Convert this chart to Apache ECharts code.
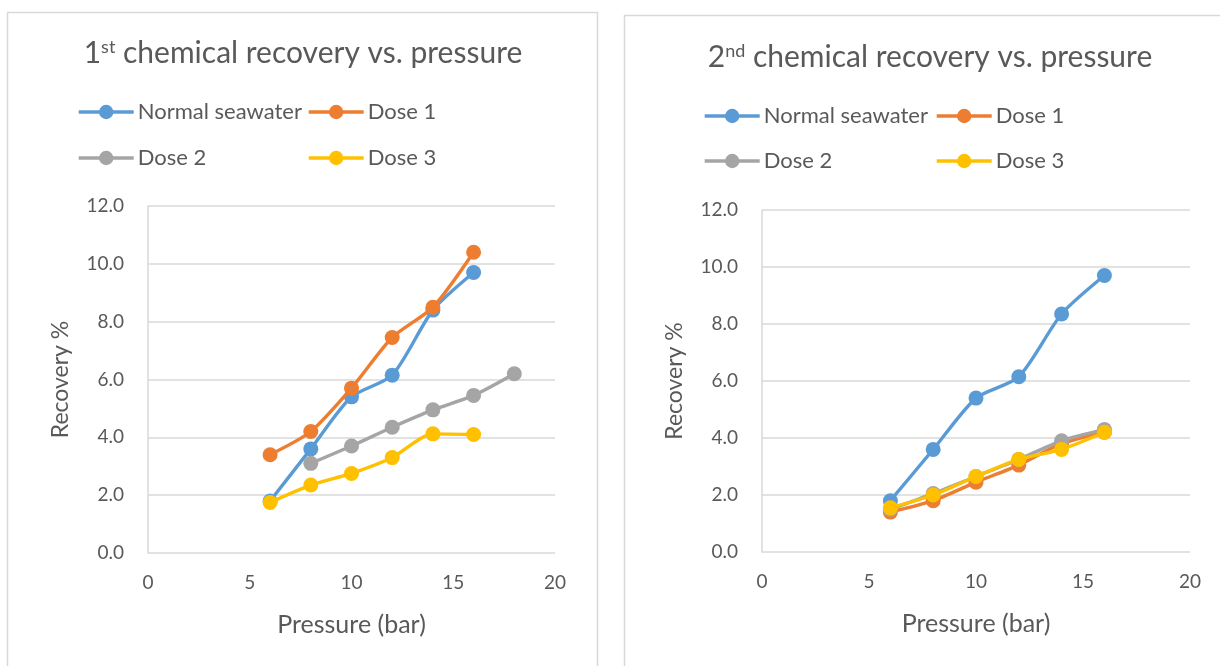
<!DOCTYPE html>
<html>
<head>
<meta charset="utf-8">
<script src="https://cdn.jsdelivr.net/npm/echarts@6/dist/echarts.min.js"></script>
<style>
  html, body { margin: 0; padding: 0; background: #ffffff; }
  #chart { width: 1220px; height: 666px; }
</style>
</head>
<body>
<div id="chart"></div>
<script>
// Pressure (bar) on the x axis, recovery % on the y axis
const seriesNames = ['Normal seawater', 'Dose 1', 'Dose 2', 'Dose 3'];
const seriesColors = ['#5B9BD5', '#ED7D31', '#A5A5A5', '#FFC000'];

// 1st chemical
const pressure1Normal = [6, 8, 10, 12, 14, 16];
const recovery1Normal = [1.8, 3.6, 5.4, 6.15, 8.4, 9.7];
const pressure1Dose1 = [6, 8, 10, 12, 14, 16];
const recovery1Dose1 = [3.4, 4.2, 5.7, 7.45, 8.5, 10.4];
const pressure1Dose2 = [8, 10, 12, 14, 16, 18];
const recovery1Dose2 = [3.1, 3.7, 4.35, 4.95, 5.45, 6.2];
const pressure1Dose3 = [6, 8, 10, 12, 14, 16];
const recovery1Dose3 = [1.75, 2.35, 2.75, 3.3, 4.12, 4.1];

// 2nd chemical
const pressure2 = [6, 8, 10, 12, 14, 16];
const recovery2Normal = [1.8, 3.6, 5.4, 6.15, 8.35, 9.7];
const recovery2Dose1 = [1.4, 1.8, 2.45, 3.05, 3.8, 4.2];
const recovery2Dose2 = [1.5, 2.05, 2.65, 3.25, 3.9, 4.3];
const recovery2Dose3 = [1.55, 2.0, 2.65, 3.25, 3.6, 4.2];

const xTicks = [0, 5, 10, 15, 20];
const yTicks = [0, 2, 4, 6, 8, 10, 12];

const FONT = 'Lato, "Open Sans", sans-serif';
const TEXT = '#595959';

function pairs(xs, ys) {
  return xs.map((x, i) => [x, ys[i]]);
}

function lineSeries(name, idx, axisIndex, data) {
  return {
    name: name,
    type: 'line',
    xAxisIndex: axisIndex,
    yAxisIndex: axisIndex,
    data: data,
    smooth: 0.25,
    symbol: 'circle',
    symbolSize: 15,
    showSymbol: true,
    color: seriesColors[idx],
    lineStyle: { width: 3.4, color: seriesColors[idx] },
    itemStyle: { color: seriesColors[idx] },
    z: 2 + idx
  };
}

function xAxisCfg(gridIndex) {
  return {
    type: 'value',
    gridIndex: gridIndex,
    min: xTicks[0],
    max: xTicks[xTicks.length - 1],
    interval: xTicks[1] - xTicks[0],
    name: 'Pressure (bar)',
    nameLocation: 'middle',
    nameGap: 59,
    nameTextStyle: { fontFamily: FONT, fontSize: 25, color: TEXT },
    axisLine: { show: false },
    axisTick: { show: false },
    splitLine: { show: false },
    axisLabel: { fontFamily: FONT, fontSize: 19, color: TEXT, margin: 20 }
  };
}

function yAxisCfg(gridIndex) {
  return {
    type: 'value',
    gridIndex: gridIndex,
    min: yTicks[0],
    max: yTicks[yTicks.length - 1],
    interval: yTicks[1] - yTicks[0],
    name: 'Recovery %',
    nameLocation: 'middle',
    nameGap: 76,
    nameTextStyle: { fontFamily: FONT, fontSize: 23, color: TEXT },
    axisLine: { show: true, lineStyle: { color: '#D9D9D9', width: 1.5 } },
    axisTick: { show: false },
    splitLine: { show: true, lineStyle: { color: '#D9D9D9', width: 1.5 } },
    axisLabel: {
      fontFamily: FONT, fontSize: 19, color: TEXT, margin: 24,
      formatter: v => v.toFixed(1)
    }
  };
}

function legendItem(name, left, top) {
  return {
    data: [name],
    left: left,
    top: top,
    orient: 'horizontal',
    itemWidth: 55,
    itemHeight: 18,
    itemGap: 0,
    padding: 0,
    selectedMode: false,
    lineStyle: { width: 3.4 },
    textStyle: { fontFamily: FONT, fontSize: 22, color: TEXT, padding: [0, 0, 0, -1] }
  };
}

const titleRich = {
  b: { fontFamily: FONT, fontSize: 30, fontWeight: 'normal', color: TEXT },
  sup: { fontFamily: FONT, fontSize: 18, fontWeight: 'normal', color: TEXT, verticalAlign: 'top', padding: [0, 0, 12, 0] }
};

const chart = echarts.init(document.getElementById('chart'), null, { renderer: 'canvas' });

chart.setOption({
  backgroundColor: '#ffffff',
  animation: false,
  graphic: [
    { type: 'rect', shape: { x: 7.5, y: 12.5, width: 590, height: 700 },
      style: { fill: 'none', stroke: '#D9D9D9', lineWidth: 1.5 }, silent: true },
    { type: 'rect', shape: { x: 624.5, y: 15.5, width: 620, height: 700 },
      style: { fill: 'none', stroke: '#D9D9D9', lineWidth: 1.5 }, silent: true }
  ],
  title: [
    {
      text: '{b|1}{sup|st}{b| chemical recovery vs. pressure}',
      left: 298, top: 33, textAlign: 'center',
      textStyle: { fontWeight: 'normal', rich: titleRich }
    },
    {
      text: '{b|2}{sup|nd}{b| chemical recovery vs. pressure}',
      left: 925, top: 37, textAlign: 'center',
      textStyle: { fontWeight: 'normal', rich: titleRich }
    }
  ],
  legend: [
    legendItem('Normal seawater', 77, 101),
    legendItem('Dose 1', 307, 101),
    legendItem('Dose 2', 77, 147),
    legendItem('Dose 3', 307, 147),
    legendItem('Normal seawater', 703, 105),
    legendItem('Dose 1', 935, 105),
    legendItem('Dose 2', 703, 150),
    legendItem('Dose 3', 935, 150)
  ],
  grid: [
    { left: 148, right: 665, top: 206, bottom: 113, containLabel: false },
    { left: 762, right: 30, top: 210, bottom: 114, containLabel: false }
  ],
  xAxis: [xAxisCfg(0), xAxisCfg(1)],
  yAxis: [yAxisCfg(0), yAxisCfg(1)],
  series: [
    lineSeries(seriesNames[0], 0, 0, pairs(pressure1Normal, recovery1Normal)),
    lineSeries(seriesNames[1], 1, 0, pairs(pressure1Dose1, recovery1Dose1)),
    lineSeries(seriesNames[2], 2, 0, pairs(pressure1Dose2, recovery1Dose2)),
    lineSeries(seriesNames[3], 3, 0, pairs(pressure1Dose3, recovery1Dose3)),
    lineSeries(seriesNames[0], 0, 1, pairs(pressure2, recovery2Normal)),
    lineSeries(seriesNames[1], 1, 1, pairs(pressure2, recovery2Dose1)),
    lineSeries(seriesNames[2], 2, 1, pairs(pressure2, recovery2Dose2)),
    lineSeries(seriesNames[3], 3, 1, pairs(pressure2, recovery2Dose3))
  ]
});
</script>
</body>
</html>
